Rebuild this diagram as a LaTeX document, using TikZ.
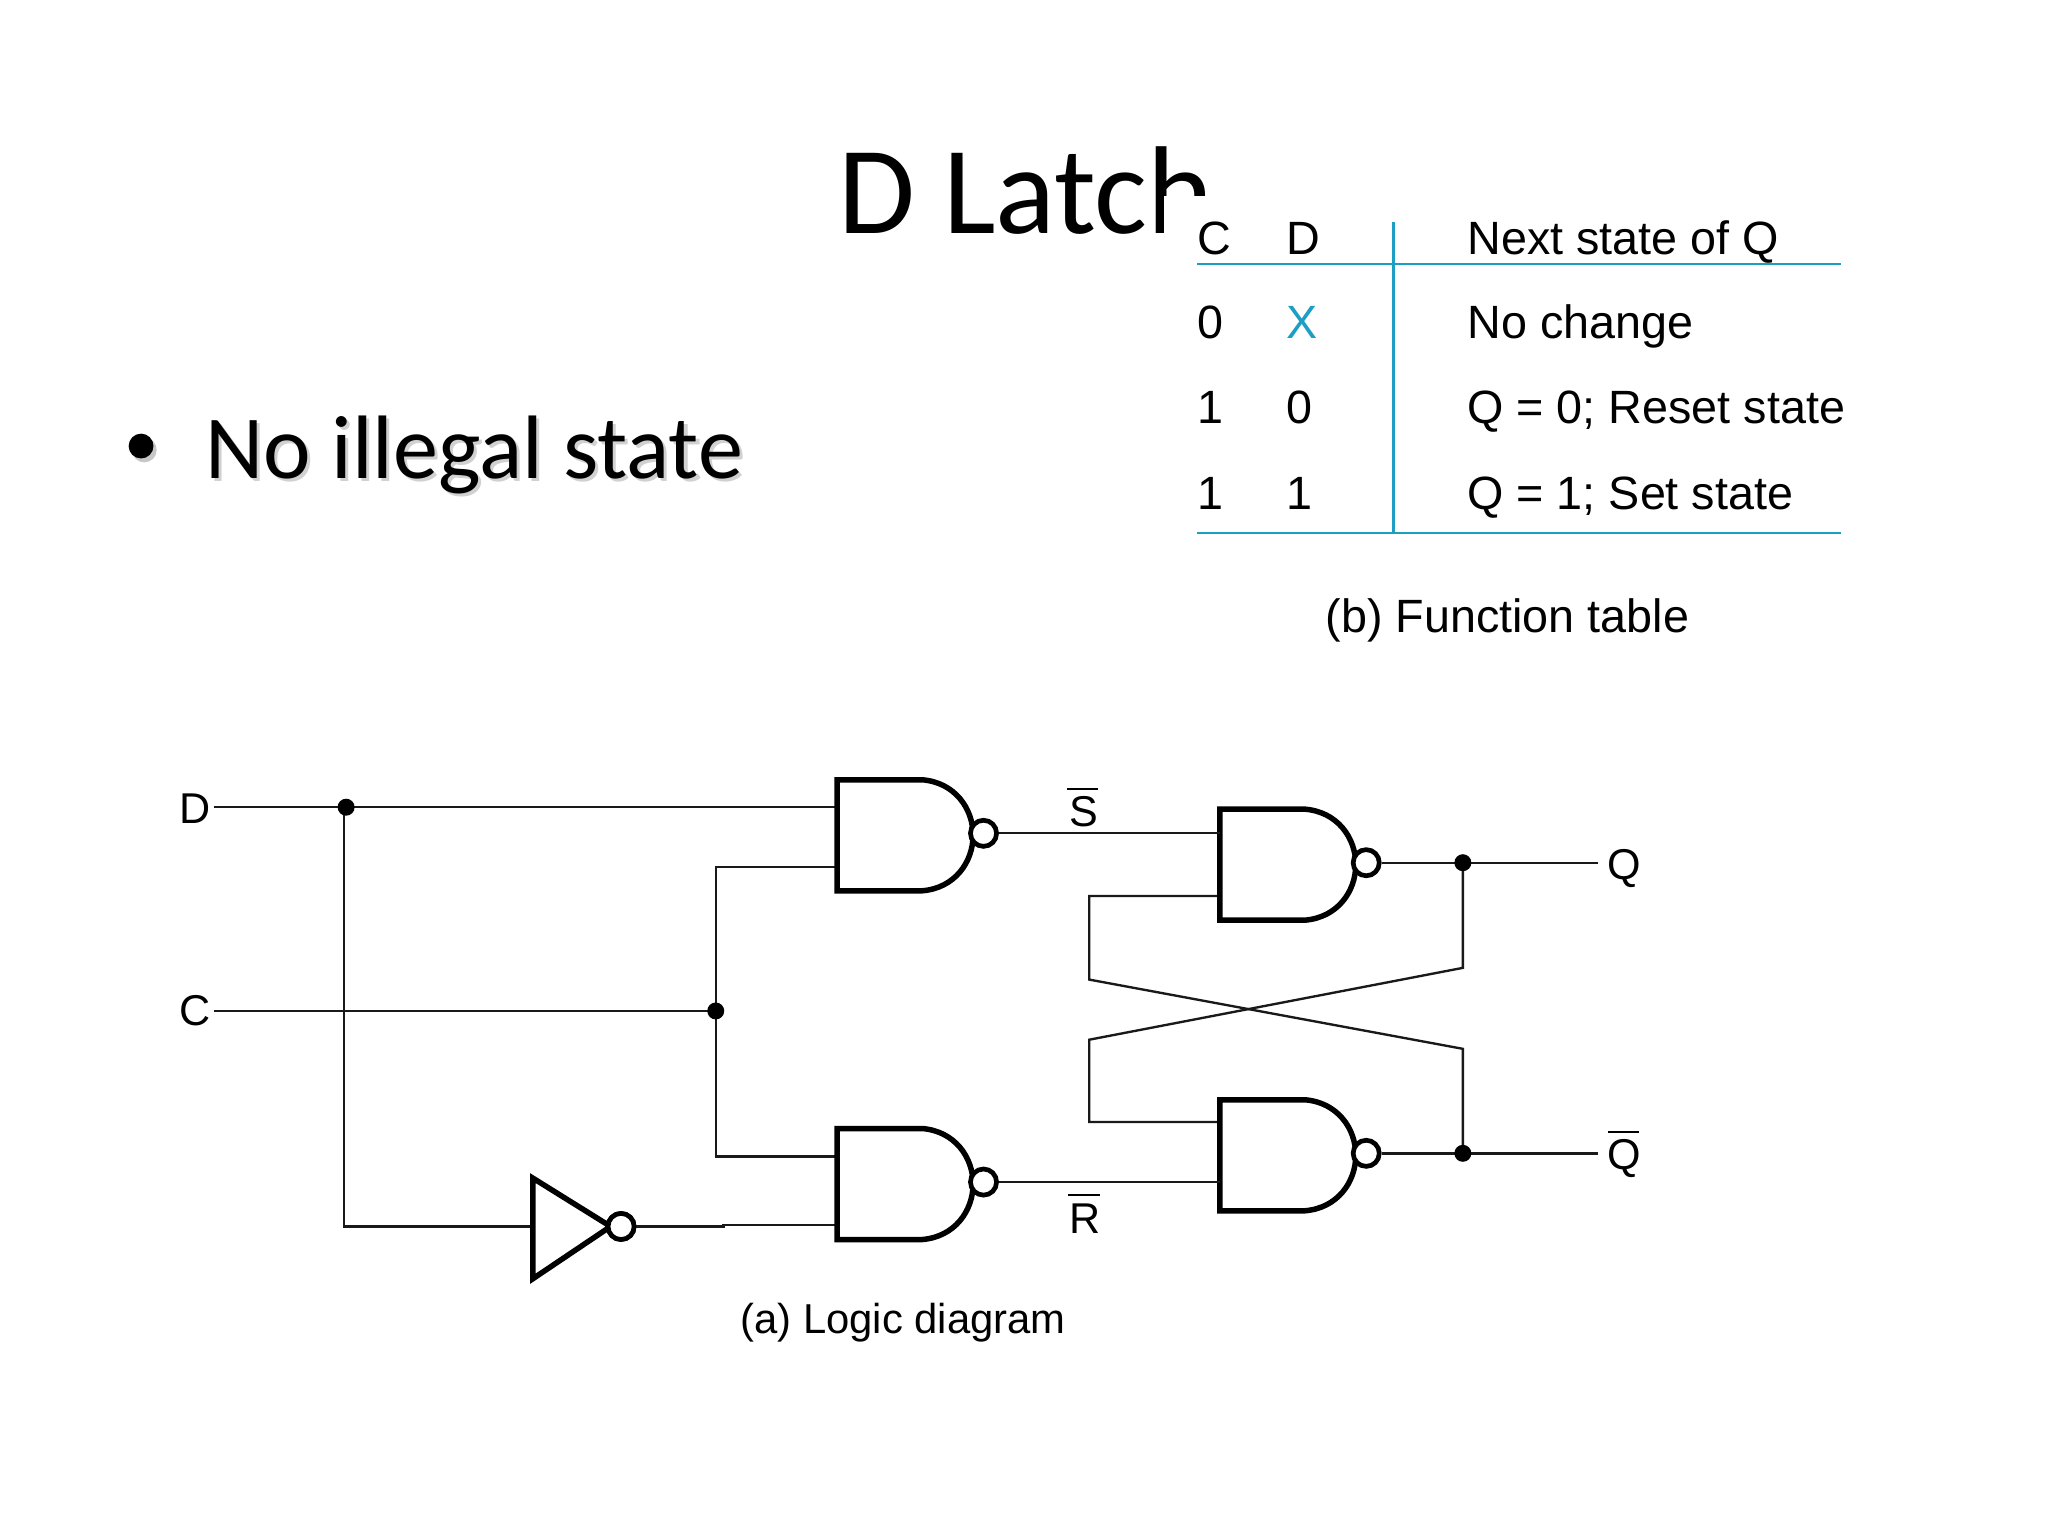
\documentclass[tikz,border=0pt]{standalone}
\usepackage{fontspec}
\setmainfont{Liberation Sans}
\newfontfamily\slidefont{Carlito}
\definecolor{tealline}{HTML}{1C9FC2}
\newcommand{\fsz}[1]{\fontsize{#1}{#1}\selectfont}
\newcommand{\nandg}[3]{%
  \draw[gateline] (#2,#3) -- (#2+65,#3) .. controls (#2+90,#3+2) and (#2+104,#3+22) .. (#2+104,#3+42.5)
    .. controls (#2+104,#3+63) and (#2+90,#3+83) .. (#2+65,#3+85) -- (#2,#3+85) -- cycle;
  \node[bubble] (#1o) at (#2+112,#3+41) {};
  \coordinate (#1n) at (#2,#3);
}
\tikzset{
  wire/.style={line width=1.8pt,black!90},
  gateline/.style={line width=4.2pt,black,miter limit=10,line join=miter},
  bubble/.style={circle,draw=black,line width=3.6pt,fill=white,inner sep=0pt,minimum size=20pt},
  dotj/.style={circle,fill=black,inner sep=0pt,minimum size=13pt},
  figtxt/.style={anchor=base west,inner sep=0pt,outer sep=0pt,font=\fsz{35.75}},
  lab/.style={anchor=base,inner sep=0pt,outer sep=0pt,font=\fsz{33}},
  tabrule/.style={line width=2pt,tealline},
  shadowtxt/.style={anchor=base west,inner sep=0pt,text=black!18,font=\slidefont\fsz{69}},
}
\begin{document}
\begin{tikzpicture}[x=1pt,y=-1pt]
\useasboundingbox (0,0) rectangle (1568,1176);
\fill[white] (0,0) rectangle (1568,1176);
% title, partly covered by the table picture
\node[anchor=base west,inner sep=0pt,font=\slidefont\fsz{95.7}] (title) at (641.5,178.5) {D Latch};
\fill[white] (891,150) rectangle (1440,500);
% bullet
\fill[black!22] (110.5,344.5) circle (9.5);
\fill[black] (108,341.5) circle (9.5);
\node[shadowtxt] (bulletshadow) at (159.5,369) {No illegal state};
\node[anchor=base west,inner sep=0pt,font=\slidefont\fsz{69}] (bullet) at (157,366.5) {No illegal state};
% table
\coordinate (hl) at (916.5,202); \coordinate (hr) at (1409.5,202);
\coordinate (bl) at (916.5,408); \coordinate (br) at (1409.5,408);
\coordinate (vt) at (1067,170); \coordinate (vb) at (1067,408);
\draw[tabrule] (hl) -- (hr);
\draw[tabrule] (bl) -- (br);
\draw[tabrule] (vt) -- (vb);
\node[figtxt] (h1) at (916.5,194.5) {C};
\node[figtxt] (h2) at (985,194.5) {D};
\node[figtxt] (h3) at (1123.5,194.5) {Next state of Q};
\node[figtxt] (a1) at (916.5,259) {0};
\node[figtxt,text=tealline] (a2) at (985,259) {X};
\node[figtxt] (a3) at (1123.5,259) {No change};
\node[figtxt] (b1) at (916.5,324.5) {1};
\node[figtxt] (b2) at (985,324.5) {0};
\node[figtxt] (b3) at (1123.5,324.5) {Q = 0; Reset state};
\node[figtxt] (c1) at (916.5,390) {1};
\node[figtxt] (c2) at (985,390) {1};
\node[figtxt] (c3) at (1123.5,390) {Q = 1; Set state};
\node[figtxt] (capb) at (1015,484) {(b) Function table};
\node[figtxt,font=\fsz{32}] (capa) at (567,1021) {(a) Logic diagram};
% input labels
\node[lab] (D) at (149,630.5) {D};
\node[lab] (C) at (149,785) {C};
\node[lab] (Q) at (1243.5,673) {Q};
\node[lab] (Qb) at (1243.5,895) {Q};
\node[lab] (Sb) at (829.5,633) {S};
\node[lab] (Rb) at (830.5,944) {R};
\draw[line width=1.6pt] (817,604) -- (841,604);
\draw[line width=1.6pt] (818,915) -- (842,915);
\draw[line width=1.6pt] (1231,867) -- (1255,867);
% wires underneath the gates
\coordinate (dj) at (265,618); \coordinate (dv) at (263.5,618);
\coordinate (n1a) at (641,618); \coordinate (n1b) at (641,664);
\coordinate (n2a) at (641,885.5); \coordinate (n2b) at (641,938);
\coordinate (n3a) at (934,638); \coordinate (n3b) at (934,686);
\coordinate (n4a) at (934,859); \coordinate (n4b) at (934,905);
\coordinate (cj) at (548,774);
\coordinate (qj) at (1120,660.5); \coordinate (qbj) at (1120,883);
\coordinate (qe) at (1223.5,660.5); \coordinate (qbe) at (1223.5,883);
\coordinate (dstart) at (163.5,618); \coordinate (cstart) at (163.5,774);
\coordinate (invin) at (408,939);
\coordinate (x1) at (834,750); \coordinate (x2) at (1120,803);
\coordinate (x3) at (834,796); \coordinate (x4) at (1120,741);
% inverter
\node[bubble] (invo) at (475.5,939) {};
\draw[wire] (dstart) -- (n1a);
\draw[wire] (cstart) -- (cj);
\draw[wire] (n1b) -| (cj) |- (n2a);
\draw[wire] (dv) -- (263.5,939) -- (invin);
\draw[wire] (invo) -- (554,939) -- (554,938) -- (n2b);
\draw[wire] (n3b) -| (x1) -- (x2) -- (qbj);
\draw[wire] (n4a) -| (x3) -- (x4) -- (qj);
% gates
\nandg{na}{641}{597}
\nandg{nb}{641}{864}
\nandg{nc}{934}{619.5}
\nandg{nd}{934}{842}
\draw[gateline] (408,902) -- (467.5,939) -- (408,979) -- cycle;
\node[bubble] at (invo) {};
\draw[wire] (nao) -- (n3a);
\draw[wire] (nbo) -- (n4b);
\draw[wire] (nco) -- (qe);
\draw[wire] (ndo) -- (qbe);
\node[dotj] (dotD) at (dj) {};
\node[dotj] (dotC) at (cj) {};
\node[dotj] (dotQ) at (qj) {};
\node[dotj] (dotQb) at (qbj) {};
\end{tikzpicture}
\end{document}
